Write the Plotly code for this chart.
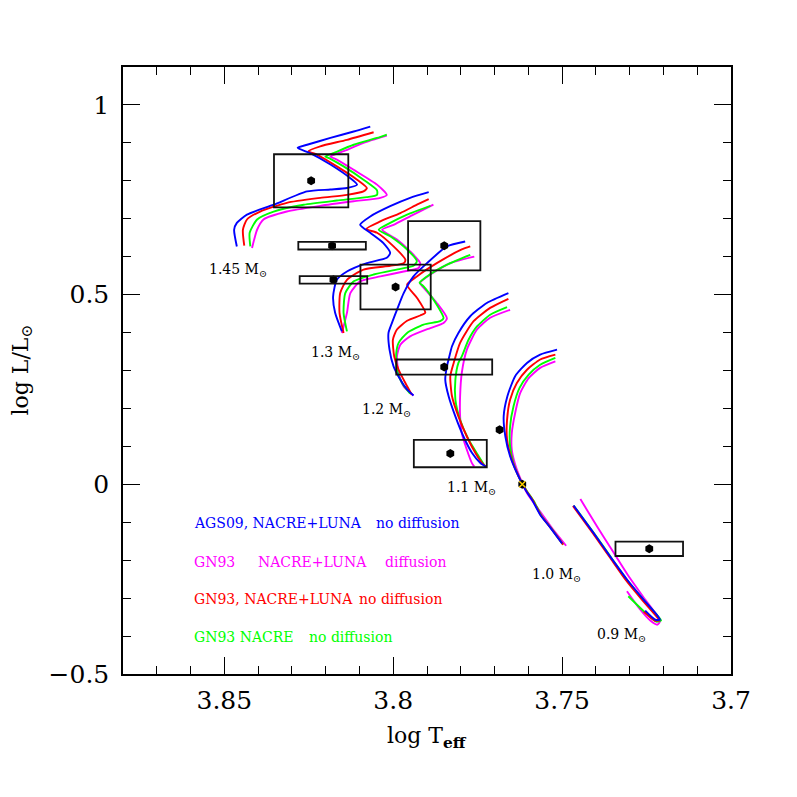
import plotly.graph_objects as go

# ---------------- observed stars (log Teff, log L) with error boxes ----------------
obs_logT = [3.8243, 3.8181, 3.8177, 3.7849, 3.7993, 3.7849, 3.7831, 3.7685, 3.7618, 3.7242]
obs_logL = [0.800, 0.629, 0.539, 0.629, 0.520, 0.309, 0.081, 0.144, 0.000, -0.170]
obs_errT = [0.0110, 0.0100, 0.0100, 0.0107, 0.0104, 0.0142, 0.0108, 0.0, 0.0, 0.0100]
obs_errL = [0.070, 0.010, 0.010, 0.065, 0.059, 0.020, 0.036, 0.0, 0.0, 0.019]
sun_logT = [3.7618]
sun_logL = [0.000]

# ---------------- evolutionary tracks ----------------
# 1.45 Msun
m145_ags_T = [3.8463, 3.8471, 3.8463, 3.8433, 3.8354, 3.8255, 3.8186, 3.8137, 3.8107, 3.8127, 3.8186, 3.8246, 3.8283, 3.8255, 3.8186, 3.8117, 3.8068]
m145_ags_L = [0.627, 0.671, 0.689, 0.711, 0.737, 0.772, 0.777, 0.781, 0.790, 0.807, 0.843, 0.873, 0.887, 0.895, 0.913, 0.930, 0.943]
m145_dif_T = [3.8418, 3.8403, 3.8384, 3.8315, 3.8216, 3.8117, 3.8038, 3.8019, 3.8048, 3.8117, 3.8167, 3.8186, 3.8147, 3.8088, 3.8019]
m145_dif_L = [0.623, 0.671, 0.698, 0.719, 0.734, 0.746, 0.755, 0.763, 0.790, 0.829, 0.856, 0.864, 0.878, 0.900, 0.919]
m145_gn_T = [3.8441, 3.8445, 3.8433, 3.8394, 3.8315, 3.8216, 3.8137, 3.8088, 3.8078, 3.8107, 3.8167, 3.8226, 3.8251, 3.8216, 3.8137, 3.8058]
m145_gn_L = [0.629, 0.671, 0.698, 0.719, 0.742, 0.755, 0.763, 0.772, 0.781, 0.803, 0.838, 0.869, 0.878, 0.891, 0.908, 0.928]
m145_nac_T = [3.8423, 3.8425, 3.8403, 3.8354, 3.8265, 3.8167, 3.8078, 3.8048, 3.8048, 3.8088, 3.8147, 3.8186, 3.8201, 3.8177, 3.8117, 3.8048, 3.8019]
m145_nac_L = [0.627, 0.663, 0.698, 0.719, 0.737, 0.748, 0.757, 0.763, 0.775, 0.803, 0.838, 0.858, 0.864, 0.873, 0.895, 0.913, 0.922]

# 1.3 Msun
m130_ags_T = [3.8152, 3.8172, 3.8178, 3.8167, 3.8137, 3.8078, 3.8019, 3.8009, 3.8029, 3.8068, 3.8098, 3.8068, 3.8009, 3.7950, 3.7895]
m130_ags_L = [0.403, 0.452, 0.495, 0.539, 0.561, 0.583, 0.597, 0.610, 0.636, 0.663, 0.684, 0.706, 0.733, 0.755, 0.770]
m130_dif_T = [3.8152, 3.8137, 3.8127, 3.8098, 3.8038, 3.7969, 3.7925, 3.7920, 3.7950, 3.7989, 3.8033, 3.7999, 3.7940, 3.7881]
m130_dif_L = [0.399, 0.452, 0.504, 0.535, 0.548, 0.561, 0.570, 0.583, 0.614, 0.645, 0.671, 0.684, 0.711, 0.737]
m130_gn_T = [3.8147, 3.8159, 3.8157, 3.8137, 3.8088, 3.8009, 3.7969, 3.7964, 3.7999, 3.8048, 3.8080, 3.8038, 3.7979, 3.7930, 3.7895]
m130_gn_L = [0.399, 0.452, 0.504, 0.539, 0.566, 0.576, 0.583, 0.592, 0.627, 0.663, 0.673, 0.693, 0.715, 0.737, 0.752]
m130_nac_T = [3.8137, 3.8147, 3.8142, 3.8117, 3.8058, 3.7979, 3.7940, 3.7930, 3.7959, 3.8009, 3.8043, 3.8009, 3.7959, 3.7890]
m130_nac_L = [0.403, 0.452, 0.504, 0.535, 0.553, 0.568, 0.576, 0.588, 0.619, 0.654, 0.671, 0.689, 0.711, 0.734]

# 1.2 Msun
m120_ags_T = [3.7940, 3.7959, 3.7979, 3.7999, 3.8011, 3.8014, 3.8004, 3.7989, 3.7969, 3.7940, 3.7900, 3.7841, 3.7787]
m120_ags_L = [0.234, 0.250, 0.276, 0.311, 0.355, 0.399, 0.425, 0.460, 0.504, 0.548, 0.583, 0.627, 0.640]
m120_dif_T = [3.7940, 3.7969, 3.7984, 3.7989, 3.7979, 3.7950, 3.7890, 3.7851, 3.7841, 3.7871, 3.7905, 3.7920, 3.7890, 3.7831, 3.7760]
m120_dif_L = [0.234, 0.258, 0.294, 0.337, 0.368, 0.390, 0.412, 0.425, 0.438, 0.478, 0.513, 0.531, 0.553, 0.583, 0.600]
m120_gn_T = [3.7945, 3.7964, 3.7984, 3.7997, 3.8001, 3.7989, 3.7959, 3.7920, 3.7905, 3.7930, 3.7959, 3.7930, 3.7871, 3.7797, 3.7772]
m120_gn_L = [0.236, 0.267, 0.302, 0.337, 0.381, 0.408, 0.431, 0.445, 0.452, 0.492, 0.526, 0.548, 0.583, 0.619, 0.627]
m120_nac_T = [3.7950, 3.7974, 3.7989, 3.7991, 3.7984, 3.7959, 3.7910, 3.7861, 3.7851, 3.7881, 3.7910, 3.7922, 3.7900, 3.7841, 3.7772]
m120_nac_L = [0.239, 0.267, 0.302, 0.346, 0.373, 0.399, 0.421, 0.430, 0.438, 0.487, 0.522, 0.531, 0.548, 0.579, 0.605]

# 1.1 Msun
m110_ags_T = [3.7725, 3.7742, 3.7767, 3.7792, 3.7816, 3.7836, 3.7846, 3.7841, 3.7836, 3.7826, 3.7807, 3.7772, 3.7723, 3.7659]
m110_ags_L = [0.046, 0.056, 0.083, 0.126, 0.179, 0.232, 0.276, 0.311, 0.329, 0.364, 0.399, 0.443, 0.478, 0.504]
m110_dif_T = [3.7760, 3.7767, 3.7782, 3.7797, 3.7802, 3.7802, 3.7797, 3.7782, 3.7752, 3.7713, 3.7654]
m110_dif_L = [0.047, 0.056, 0.091, 0.135, 0.179, 0.232, 0.294, 0.355, 0.408, 0.439, 0.460]
m110_gn_T = [3.7725, 3.7737, 3.7757, 3.7782, 3.7807, 3.7826, 3.7831, 3.7821, 3.7802, 3.7762, 3.7713, 3.7659]
m110_gn_L = [0.046, 0.056, 0.083, 0.126, 0.179, 0.232, 0.285, 0.320, 0.373, 0.430, 0.465, 0.489]
m110_nac_T = [3.7728, 3.7747, 3.7777, 3.7802, 3.7816, 3.7816, 3.7807, 3.7797, 3.7777, 3.7752, 3.7713, 3.7663]
m110_nac_L = [0.047, 0.074, 0.118, 0.170, 0.223, 0.276, 0.320, 0.337, 0.381, 0.416, 0.447, 0.467]

# 1.0 Msun
m100_ags_T = [3.7500, 3.7535, 3.7565, 3.7589, 3.7609, 3.7634, 3.7654, 3.7668, 3.7673, 3.7662, 3.7639, 3.7604, 3.7565, 3.7515]
m100_ags_L = [-0.156, -0.114, -0.080, -0.041, -0.014, 0.030, 0.074, 0.126, 0.179, 0.232, 0.285, 0.320, 0.342, 0.355]
m100_dif_T = [3.7488, 3.7526, 3.7565, 3.7604, 3.7634, 3.7649, 3.7649, 3.7639, 3.7624, 3.7599, 3.7565, 3.7520]
m100_dif_L = [-0.162, -0.120, -0.072, -0.023, 0.039, 0.091, 0.135, 0.188, 0.241, 0.280, 0.307, 0.324]
m100_gn_T = [3.7497, 3.7532, 3.7562, 3.7586, 3.7606, 3.7629, 3.7649, 3.7663, 3.7663, 3.7654, 3.7634, 3.7604, 3.7565, 3.7520]
m100_gn_L = [-0.159, -0.117, -0.083, -0.043, -0.017, 0.021, 0.065, 0.118, 0.170, 0.223, 0.267, 0.302, 0.329, 0.342]
m100_nac_T = [3.7497, 3.7530, 3.7560, 3.7584, 3.7604, 3.7624, 3.7644, 3.7654, 3.7654, 3.7644, 3.7626, 3.7599, 3.7565, 3.7520]
m100_nac_L = [-0.159, -0.118, -0.084, -0.044, -0.018, 0.012, 0.056, 0.100, 0.153, 0.205, 0.254, 0.289, 0.315, 0.333]

# 0.9 Msun
m090_ags_T = [3.7254, 3.7224, 3.7210, 3.7218, 3.7259, 3.7308, 3.7358, 3.7407, 3.7466]
m090_ags_L = [-0.333, -0.357, -0.357, -0.346, -0.304, -0.251, -0.190, -0.128, -0.056]
m090_dif_T = [3.7308, 3.7269, 3.7239, 3.7218, 3.7210, 3.7254, 3.7304, 3.7349, 3.7396, 3.7446]
m090_dif_L = [-0.282, -0.330, -0.359, -0.370, -0.360, -0.304, -0.241, -0.178, -0.112, -0.039]
m090_gn_T = [3.7258, 3.7226, 3.7212, 3.7220, 3.7262, 3.7311, 3.7360, 3.7409, 3.7468]
m090_gn_L = [-0.336, -0.359, -0.359, -0.349, -0.306, -0.253, -0.191, -0.129, -0.057]
m090_nac_T = [3.7304, 3.7254, 3.7221, 3.7207, 3.7217, 3.7256, 3.7305, 3.7355, 3.7404, 3.7466]
m090_nac_L = [-0.295, -0.338, -0.362, -0.359, -0.347, -0.307, -0.255, -0.193, -0.131, -0.056]

# ---------------- labels ----------------
mass_text = ["1.45 M<sub>⊙</sub>", "1.3 M<sub>⊙</sub>", "1.2 M<sub>⊙</sub>",
             "1.1 M<sub>⊙</sub>", "1.0 M<sub>⊙</sub>", "0.9 M<sub>⊙</sub>"]
mass_logT = [3.8459, 3.8172, 3.8021, 3.7769, 3.7517, 3.7325]
mass_logL = [0.566, 0.345, 0.197, -0.011, -0.238, -0.398]

legend_text = ["AGS09, NACRE+LUNA", "no diffusion",
               "GN93", "NACRE+LUNA", "diffusion",
               "GN93, NACRE+LUNA", "no diffusion",
               "GN93 NACRE", "no diffusion"]
legend_color = ["#0000ff", "#0000ff",
                "#ff00ff", "#ff00ff", "#ff00ff",
                "#ff0000", "#ff0000",
                "#00ff00", "#00ff00"]
legend_logT = [3.8596, 3.8056,
               3.8596, 3.8406, 3.8029,
               3.8596, 3.8106,
               3.8596, 3.8254]
legend_logL = [-0.102, -0.102,
               -0.204, -0.204, -0.204,
               -0.302, -0.302,
               -0.403, -0.403]

BLUE, MAG, RED, GREEN = "#0000ff", "#ff00ff", "#ff0000", "#00ff00"

tracks = [
    (m145_dif_T, m145_dif_L, MAG), (m145_nac_T, m145_nac_L, GREEN), (m145_gn_T, m145_gn_L, RED), (m145_ags_T, m145_ags_L, BLUE),
    (m130_dif_T, m130_dif_L, MAG), (m130_nac_T, m130_nac_L, GREEN), (m130_gn_T, m130_gn_L, RED), (m130_ags_T, m130_ags_L, BLUE),
    (m120_dif_T, m120_dif_L, MAG), (m120_nac_T, m120_nac_L, GREEN), (m120_gn_T, m120_gn_L, RED), (m120_ags_T, m120_ags_L, BLUE),
    (m110_dif_T, m110_dif_L, MAG), (m110_nac_T, m110_nac_L, GREEN), (m110_gn_T, m110_gn_L, RED), (m110_ags_T, m110_ags_L, BLUE),
    (m100_dif_T, m100_dif_L, MAG), (m100_nac_T, m100_nac_L, GREEN), (m100_gn_T, m100_gn_L, RED), (m100_ags_T, m100_ags_L, BLUE),
    (m090_dif_T, m090_dif_L, MAG), (m090_nac_T, m090_nac_L, GREEN), (m090_gn_T, m090_gn_L, RED), (m090_ags_T, m090_ags_L, BLUE),
]

fig = go.Figure()

for tx, ly, col in tracks:
    fig.add_trace(go.Scatter(x=tx, y=ly, mode="lines",
                             line=dict(color=col, width=1.9, shape="spline", smoothing=0.6),
                             showlegend=False, hoverinfo="skip"))

# error boxes
for t, l, et, el in zip(obs_logT, obs_logL, obs_errT, obs_errL):
    if et > 0 and el > 0:
        fig.add_shape(type="rect", xref="x", yref="y",
                      x0=t - et, x1=t + et, y0=l - el, y1=l + el,
                      line=dict(color="#111111", width=1.8), fillcolor="rgba(0,0,0,0)")

fig.add_trace(go.Scatter(x=obs_logT, y=obs_logL, mode="markers",
                         marker=dict(symbol="hexagon", size=9, color="black"),
                         showlegend=False, hoverinfo="skip"))
fig.add_trace(go.Scatter(x=sun_logT, y=sun_logL, mode="markers",
                         marker=dict(symbol="x-thin", size=6, color="#ffd000",
                                     line=dict(color="#ffd000", width=1.5)),
                         showlegend=False, hoverinfo="skip"))

for txt, t, l in zip(mass_text, mass_logT, mass_logL):
    fig.add_annotation(x=t, y=l, xref="x", yref="y", text=txt, showarrow=False,
                       font=dict(family="DejaVu Serif", size=14, color="black"),
                       xanchor="center", yanchor="middle")

for txt, col, t, l in zip(legend_text, legend_color, legend_logT, legend_logL):
    fig.add_annotation(x=t, y=l, xref="x", yref="y", text=txt, showarrow=False,
                       font=dict(family="DejaVu Serif", size=14, color=col),
                       xanchor="left", yanchor="middle")

# axis titles
fig.add_annotation(x=0.5, y=-0.104, xref="paper", yref="paper",
                   text="log T<sub><b>eff</b></sub>", showarrow=False,
                   font=dict(family="DejaVu Serif", size=22, color="black"),
                   xanchor="center", yanchor="middle")
fig.add_annotation(x=-0.166, y=0.5, xref="paper", yref="paper",
                   text="log L/L<sub>⊙</sub>", showarrow=False, textangle=-90,
                   font=dict(family="DejaVu Serif", size=22, color="black"),
                   xanchor="center", yanchor="middle")

axis_common = dict(showline=True, linecolor="black", linewidth=1.5, mirror="allticks",
                   ticks="inside", ticklen=17, tickwidth=1.3, tickcolor="black",
                   showgrid=False, zeroline=False,
                   tickfont=dict(family="DejaVu Serif", size=25, color="black"))

fig.update_xaxes(range=[3.88, 3.70], tickvals=[3.85, 3.80, 3.75, 3.70],
                 ticktext=["3.85", "3.8", "3.75", "3.7"],
                 minor=dict(ticks="inside", ticklen=8.5, tickwidth=1.3, tickcolor="black", dtick=0.01, tick0=3.70),
                 ticklabelstandoff=3, **axis_common)
fig.update_yaxes(range=[-0.5, 1.1], tickvals=[-0.5, 0, 0.5, 1],
                 ticktext=["\u22120.5", "0", "0.5", "1"],
                 minor=dict(ticks="inside", ticklen=8.5, tickwidth=1.3, tickcolor="black", dtick=0.1, tick0=0),
                 ticklabelstandoff=7, **axis_common)

# page body adds an 8px offset, so the figure is 789 px and margins compensate
fig.update_layout(width=789, height=789, plot_bgcolor="white", paper_bgcolor="white",
                  margin=dict(l=115, r=66, t=59, b=123), showlegend=False)

fig.write_html("out.html")
